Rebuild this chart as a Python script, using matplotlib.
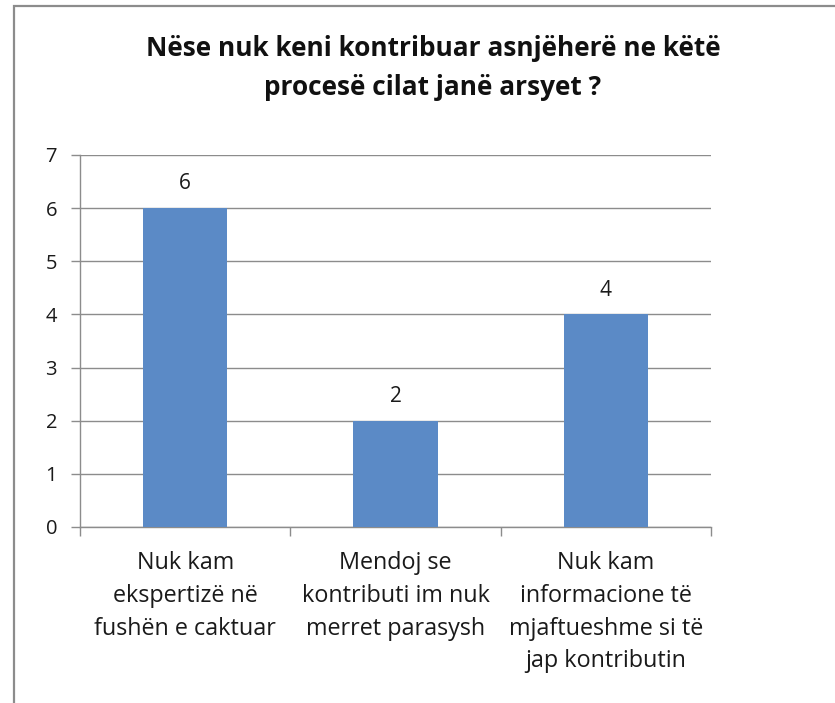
import matplotlib
matplotlib.use("Agg")
import matplotlib.pyplot as plt
from matplotlib.patches import Rectangle

categories = ["Nuk kam\nekspertizë në\nfushën e caktuar",
              "Mendoj se\nkontributi im nuk\nmerret parasysh",
              "Nuk kam\ninformacione të\nmjaftueshme si të\njap kontributin"]
values = [6, 2, 4]
yticks = [0, 1, 2, 3, 4, 5, 6, 7]
title = "Nëse nuk keni kontribuar asnjëherë ne këtë\nprocesë cilat janë arsyet ?"

plt.rcParams['font.family'] = ['Open Sans', 'DejaVu Sans']

W, H = 835, 703
fig = plt.figure(figsize=(W/100, H/100), dpi=100)
fig.patch.set_facecolor('white')

# outer chart border (extends past right and bottom edges)
fig.patches.append(Rectangle((14/W, -0.1), 1.2, 1 - 6/H + 0.1, transform=fig.transFigure,
                             fill=False, edgecolor='#8c8c8c', linewidth=1.6, zorder=0))

ax = fig.add_axes([80/W, 1 - 527/H, (711-80)/W, (527-155)/H])
x = list(range(len(categories)))
bars = ax.bar(x, values, width=0.4, color='#5b8ac6', zorder=3)
ax.set_xlim(-0.5, len(categories) - 0.5)
ax.set_ylim(0, 7)
ax.set_yticks(yticks)
ax.set_yticklabels([str(t) for t in yticks], fontsize=14.5, color='#1a1a1a')
ax.yaxis.grid(True, color='#8c8c8c', linewidth=1.0, zorder=0)
ax.set_axisbelow(True)

for s in ['top', 'right']:
    ax.spines[s].set_visible(False)
for s in ['left', 'bottom']:
    ax.spines[s].set_color('#8c8c8c')
    ax.spines[s].set_linewidth(1.0)

ax.tick_params(axis='y', length=6.5, width=1.0, color='#8c8c8c', pad=10)
ax.set_xticks(x)
ax.set_xticklabels(categories, fontsize=16.8, color='#1a1a1a', linespacing=1.48)
ax.tick_params(axis='x', which='major', length=0, pad=17.5)
ax.set_xticks([i - 0.5 for i in range(len(categories) + 1)], minor=True)
ax.tick_params(axis='x', which='minor', length=6.5, width=1.0, color='#8c8c8c')

for b, v in zip(bars, values):
    ax.annotate(str(v), (b.get_x() + b.get_width()/2, v), xytext=(0, 10),
                textcoords='offset points', ha='center', va='bottom',
                fontsize=15, color='#1a1a1a')

fig.text(433/W, 1 - 68/H, title, ha='center', va='center', fontsize=18.9,
         fontweight='bold', color='#111111', linespacing=1.56)

fig.savefig('out.png', dpi=100)
